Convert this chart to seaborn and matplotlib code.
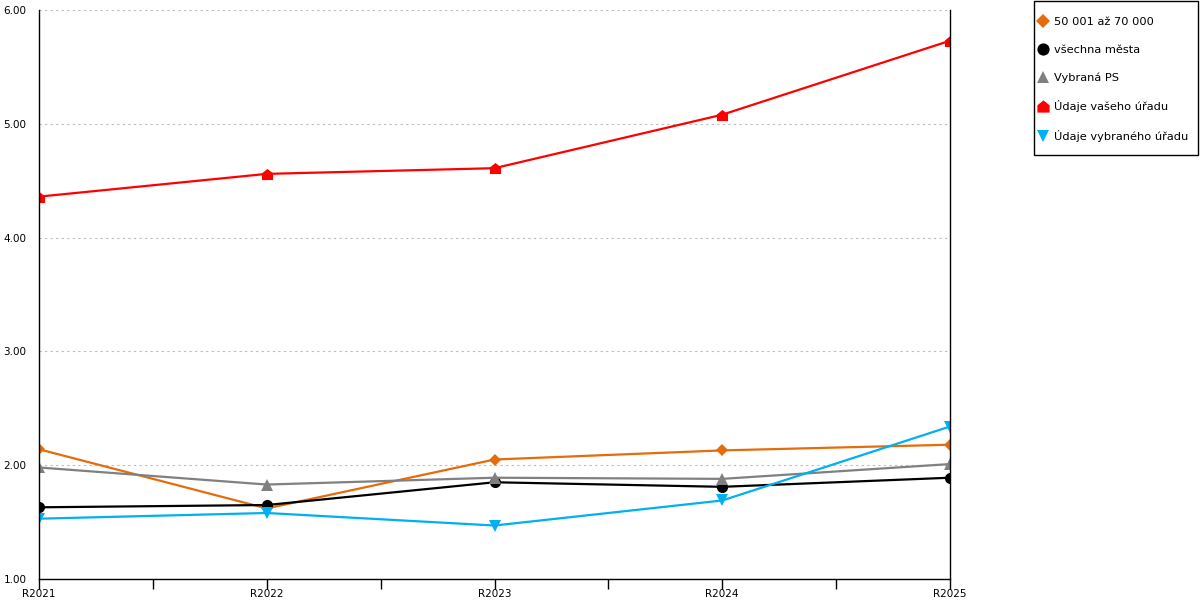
import pandas as pd
import matplotlib.pyplot as plt
from matplotlib.path import Path
from matplotlib.patches import Rectangle
import seaborn as sns

years = ["R2021", "R2022", "R2023", "R2024", "R2025"]
mesta_50_70 = [2.14, 1.62, 2.05, 2.13, 2.18]
vsechna_mesta = [1.63, 1.65, 1.85, 1.81, 1.89]
vybrana_ps = [1.98, 1.83, 1.89, 1.88, 2.01]
vas_urad = [4.36, 4.56, 4.61, 5.08, 5.73]
vybrany_urad = [1.53, 1.58, 1.47, 1.69, 2.34]

# house-shaped marker for "Údaje vašeho úřadu"
house = Path([(-1, -1), (1, -1), (1, 0.2), (0, 1), (-1, 0.2), (-1, -1)],
             [Path.MOVETO, Path.LINETO, Path.LINETO, Path.LINETO, Path.LINETO, Path.CLOSEPOLY])

series = [
    ("50 001 až 70 000", mesta_50_70, "#E46C0A", "D", 6.5),
    ("všechna města", vsechna_mesta, "#000000", "o", 8),
    ("Vybraná PS", vybrana_ps, "#808080", "^", 8.5),
    ("Údaje vašeho úřadu", vas_urad, "#FF0000", house, 8),
    ("Údaje vybraného úřadu", vybrany_urad, "#00B0F0", "v", 8.5),
]

sns.set_style("white")
plt.rcParams['font.family'] = ['DejaVu Sans']

fig = plt.figure(figsize=(12, 6), dpi=100)
ax = fig.add_axes([39 / 1200, 21 / 600, 911 / 1200, 569 / 600])

x = list(range(len(years)))
for name, vals, color, marker, ms in series:
    df = pd.DataFrame({"x": x, "y": vals})
    sns.lineplot(data=df, x="x", y="y", ax=ax, color=color, marker=marker,
                 markersize=ms, markeredgewidth=0, linewidth=1.6, label=name)

ax.set_xlim(0, 4)
ax.set_ylim(1, 6)
ax.set_yticks([1, 2, 3, 4, 5, 6])
ax.set_yticklabels([f"{v:.2f}" for v in [1, 2, 3, 4, 5, 6]], fontsize=7.5, color="black")
ax.set_xticks(x)
ax.set_xticklabels(years, fontsize=7.5, color="black")
ax.set_xticks([0.5, 1.5, 2.5, 3.5], minor=True)
ax.tick_params(axis="x", which="both", direction="out", length=7, width=1,
               color="black", bottom=True, pad=0)
ax.tick_params(axis="y", length=0, pad=9)
ax.set_xlabel("")
ax.set_ylabel("")
ax.yaxis.grid(True, color="#bbbbbb", linestyle=(0, (2, 3)), linewidth=0.8)
ax.set_axisbelow(True)
for side in ["left", "bottom", "right"]:
    ax.spines[side].set_visible(True)
    ax.spines[side].set_color("black")
    ax.spines[side].set_linewidth(1)
ax.spines["top"].set_visible(False)

# legend box drawn separately (behind the legend) so its padding can differ per side
fig.add_artist(Rectangle((1034 / 1200, 445 / 600), 164 / 1200, 154 / 600,
                         transform=fig.transFigure, facecolor="white",
                         edgecolor="black", linewidth=1, zorder=-1))
leg = ax.legend(loc="upper left", bbox_to_anchor=(1042 / 1200, 583 / 600),
                bbox_transform=fig.transFigure, frameon=False,
                fontsize=8.2, labelspacing=1.55, handlelength=0.1,
                handletextpad=0.95, borderpad=0, borderaxespad=0,
                markerscale=1.1)
for line in leg.get_lines():
    line.set_linestyle("none")
for txt in leg.get_texts():
    txt.set_color("black")

fig.savefig("out.png", dpi=100)
plt.close(fig)
